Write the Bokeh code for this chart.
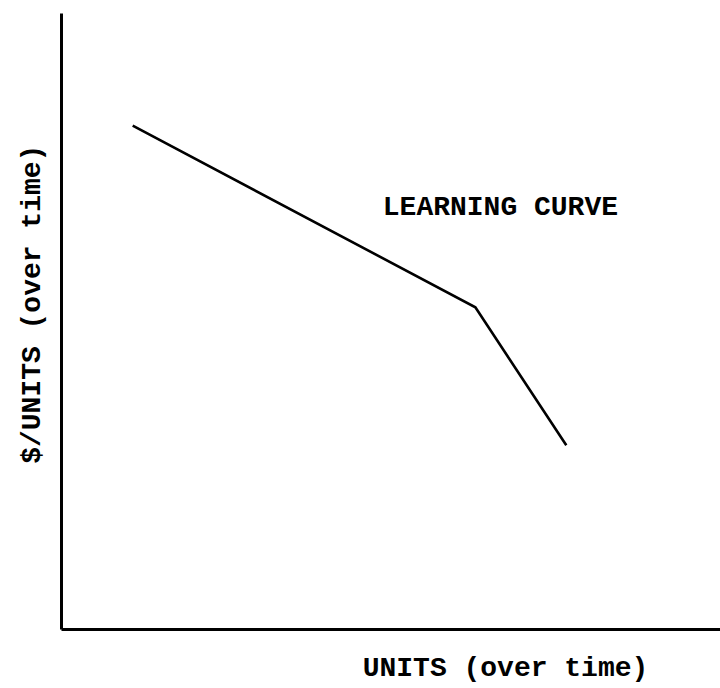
from bokeh.plotting import figure
from bokeh.models import Range1d, FixedTicker, Label
from bokeh.embed import file_html
from bokeh.resources import INLINE

# Data (arbitrary units, axes run 0-100)
units = [10.8, 62.8, 76.6]
cost_per_unit = [81.8, 52.3, 29.9]

curve_label = "LEARNING CURVE"
x_title = "UNITS (over time)"
y_title = "$/UNITS (over time)"

FONT = "Liberation Mono"

# frame covers the whole canvas; the axes sit at the data origin
p = figure(width=720, height=688, output_backend="svg", toolbar_location=None,
           x_range=Range1d(-9.26, 100), y_range=Range1d(-9.58, 102.11),
           min_border_left=0, min_border_right=0, min_border_top=0, min_border_bottom=0)

p.background_fill_color = "white"
p.border_fill_color = "white"
p.outline_line_color = None
p.grid.visible = False

for ax in (p.xaxis[0], p.yaxis[0]):
    ax.fixed_location = 0
    ax.bounds = (0, 100)
    ax.ticker = FixedTicker(ticks=[])
    ax.major_label_text_font_size = "0px"
    ax.major_tick_line_color = None
    ax.minor_tick_line_color = None
    ax.axis_line_width = 3
    ax.axis_line_color = "black"

p.line(units, cost_per_unit, line_width=2.6, line_color="black", line_join="miter")

common = dict(text_font=FONT, text_font_size="28px", text_font_style="bold",
              text_color="black", text_baseline="alphabetic")
p.add_layout(Label(x=66.6, y=68.5, text=curve_label, text_align="center", **common))
p.add_layout(Label(x=45.7, y=-6.4, text=x_title, text_align="left", **common))
p.add_layout(Label(x=-4.4, y=52.8, text=y_title, angle=1.5708, text_align="center", **common))

open("out.html", "w").write(file_html(p, INLINE))
